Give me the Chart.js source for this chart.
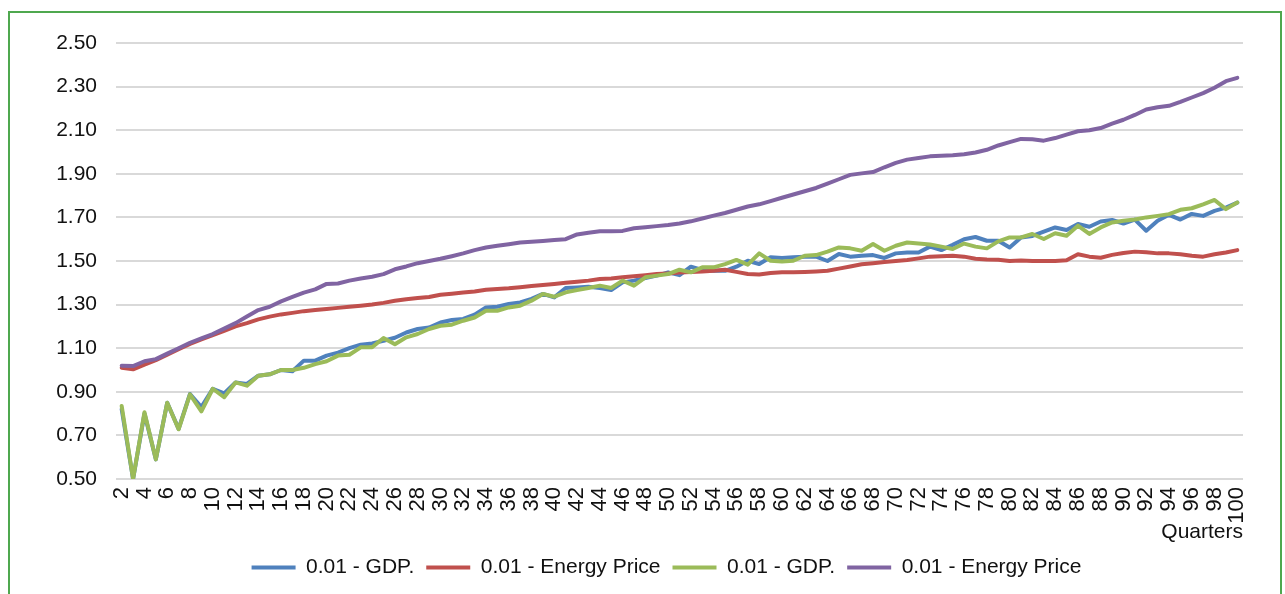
<!DOCTYPE html>
<html>
<head>
<meta charset="utf-8">
<script src="https://cdn.jsdelivr.net/npm/chart.js@4"></script>
<style>
  html, body { margin: 0; padding: 0; background: #fff; }
  #wrap { position: absolute; left: 0; top: 0; width: 1285px; height: 594px; }
  #frame { position: absolute; left: 8px; top: 11px; width: 1274px; height: 640px; box-sizing: border-box; border: 2px solid #4FA84F; pointer-events: none; }
</style>
</head>
<body>
<div id="wrap"><canvas id="c" width="1285" height="594"></canvas></div>
<div id="frame"></div>
<script>
const quarters = [2,3,4,5,6,7,8,9,10,11,12,13,14,15,16,17,18,19,20,21,22,23,24,25,26,27,28,29,30,31,32,33,34,35,36,37,38,39,40,41,42,43,44,45,46,47,48,49,50,51,52,53,54,55,56,57,58,59,60,61,62,63,64,65,66,67,68,69,70,71,72,73,74,75,76,77,78,79,80,81,82,83,84,85,86,87,88,89,90,91,92,93,94,95,96,97,98,99,100];

const gdpA = [0.82,0.50,0.80,0.59,0.85,0.73,0.89,0.83,0.914,0.893,
  0.943,0.936,0.974,0.98,1.00,0.994,1.043,1.043,1.066,1.08,
  1.10,1.116,1.122,1.134,1.148,1.172,1.188,1.195,1.218,1.229,
  1.234,1.254,1.287,1.29,1.303,1.31,1.326,1.349,1.333,1.376,
  1.379,1.382,1.376,1.367,1.402,1.41,1.422,1.433,1.448,1.435,
  1.474,1.459,1.455,1.455,1.474,1.501,1.486,1.517,1.514,1.517,
  1.52,1.52,1.50,1.532,1.52,1.524,1.527,1.514,1.535,1.539,
  1.539,1.566,1.55,1.574,1.60,1.61,1.593,1.593,1.562,1.608,
  1.615,1.635,1.654,1.642,1.67,1.657,1.681,1.688,1.672,1.69,
  1.639,1.685,1.712,1.69,1.716,1.707,1.73,1.745,1.768];

const energyA = [1.01,1.003,1.025,1.045,1.07,1.095,1.12,1.14,1.16,1.18,
  1.20,1.215,1.232,1.245,1.255,1.262,1.27,1.275,1.28,1.285,
  1.29,1.295,1.30,1.308,1.318,1.325,1.33,1.335,1.345,1.35,
  1.355,1.36,1.368,1.372,1.375,1.38,1.385,1.39,1.395,1.40,
  1.405,1.41,1.417,1.42,1.425,1.43,1.435,1.44,1.443,1.447,
  1.45,1.452,1.455,1.46,1.45,1.44,1.438,1.445,1.448,1.448,
  1.45,1.452,1.455,1.465,1.475,1.485,1.49,1.495,1.50,1.505,
  1.512,1.52,1.522,1.524,1.52,1.51,1.507,1.506,1.50,1.502,
  1.50,1.50,1.50,1.503,1.531,1.52,1.515,1.528,1.537,1.543,
  1.54,1.535,1.535,1.531,1.524,1.52,1.531,1.539,1.55];

const gdpB = [0.835,0.50,0.806,0.59,0.85,0.728,0.888,0.81,0.914,0.875,
  0.943,0.928,0.974,0.98,1.00,1.00,1.01,1.027,1.04,1.066,
  1.07,1.104,1.104,1.147,1.118,1.15,1.165,1.188,1.203,1.208,
  1.226,1.241,1.272,1.272,1.287,1.295,1.318,1.349,1.336,1.356,
  1.367,1.376,1.387,1.376,1.41,1.387,1.425,1.433,1.44,1.46,
  1.448,1.471,1.471,1.486,1.505,1.483,1.535,1.501,1.498,1.501,
  1.524,1.527,1.543,1.562,1.558,1.547,1.578,1.547,1.57,1.585,
  1.58,1.576,1.566,1.555,1.58,1.566,1.558,1.59,1.608,1.608,
  1.624,1.601,1.627,1.616,1.662,1.624,1.654,1.677,1.685,1.69,
  1.70,1.707,1.715,1.735,1.742,1.76,1.78,1.738,1.768];

const energyB = [1.02,1.018,1.04,1.05,1.075,1.10,1.125,1.145,1.165,1.19,
  1.215,1.245,1.275,1.29,1.315,1.335,1.355,1.37,1.395,1.397,
  1.41,1.42,1.428,1.44,1.462,1.475,1.49,1.50,1.51,1.522,
  1.535,1.55,1.562,1.57,1.577,1.585,1.588,1.592,1.596,1.60,
  1.622,1.63,1.636,1.636,1.638,1.65,1.655,1.66,1.665,1.672,
  1.682,1.695,1.708,1.72,1.735,1.75,1.76,1.775,1.79,1.805,
  1.82,1.835,1.855,1.875,1.895,1.902,1.908,1.93,1.95,1.965,
  1.972,1.98,1.983,1.985,1.99,1.998,2.01,2.03,2.045,2.06,
  2.058,2.052,2.064,2.08,2.095,2.10,2.11,2.13,2.148,2.17,
  2.195,2.205,2.212,2.23,2.25,2.27,2.295,2.325,2.34];

const seriesLabels = ['0.01 - GDP.', '0.01 - Energy Price', '0.01 - GDP.', '0.01 - Energy Price'];
const yMin = 0.5, yMax = 2.5, yStep = 0.2;
const xTitle = 'Quarters';

const colors = ['#4F81BD', '#C0504D', '#9BBB59', '#8064A2'];
const FONT = 'Liberation Sans, Arial, sans-serif';

function ds(i, data) {
  return {
    label: seriesLabels[i],
    data: data,
    borderColor: colors[i],
    backgroundColor: colors[i],
    borderWidth: 4,
    pointRadius: 0,
    pointHoverRadius: 0,
    tension: 0,
    fill: false,
    order: 4 - i,
    borderJoinStyle: 'round',
    borderCapStyle: 'round'
  };
}

const shiftLegend = {
  id: 'shiftLegend',
  afterLayout(chart) {
    const lg = chart.legend;
    if (lg) { lg.left += 40; lg.right += 40; }
  }
};

new Chart(document.getElementById('c'), {
  type: 'line',
  data: {
    labels: quarters,
    datasets: [ds(0, gdpA), ds(1, energyA), ds(2, gdpB), ds(3, energyB)]
  },
  plugins: [shiftLegend],
  options: {
    responsive: false,
    animation: false,
    devicePixelRatio: 1,
    layout: { padding: { left: 10, top: 43, right: 42, bottom: 6 } },
    plugins: {
      tooltip: { enabled: false },
      legend: {
        position: 'bottom',
        labels: {
          color: '#111',
          font: { family: FONT, size: 21 },
          usePointStyle: true,
          pointStyle: 'line',
          pointStyleWidth: 44,
          boxHeight: 21,
          padding: 12,
          sort: (a, b) => a.datasetIndex - b.datasetIndex
        }
      }
    },
    scales: {
      x: {
        type: 'category',
        offset: true,
        afterFit: (s) => { s.height = 66; },
        grid: { display: false, drawTicks: false },
        border: { display: false },
        ticks: {
          autoSkip: false,
          maxRotation: 90,
          minRotation: 90,
          padding: 8,
          color: '#111',
          font: { family: FONT, size: 22 },
          callback: function(v, i) { return i % 2 === 0 ? String(quarters[i]) : ''; }
        },
        title: {
          display: true,
          text: xTitle,
          align: 'end',
          color: '#111',
          font: { family: FONT, size: 21 },
          padding: { top: 0, bottom: 0 }
        }
      },
      y: {
        min: yMin,
        max: yMax,
        afterFit: (s) => { s.width = 106; },
        grid: { color: '#D9D9D9', lineWidth: 2, drawTicks: false },
        border: { display: false },
        ticks: {
          stepSize: yStep,
          padding: 19,
          color: '#111',
          font: { family: FONT, size: 21 },
          callback: (v) => Number(v).toFixed(2)
        }
      }
    }
  }
});
</script>
</body>
</html>
